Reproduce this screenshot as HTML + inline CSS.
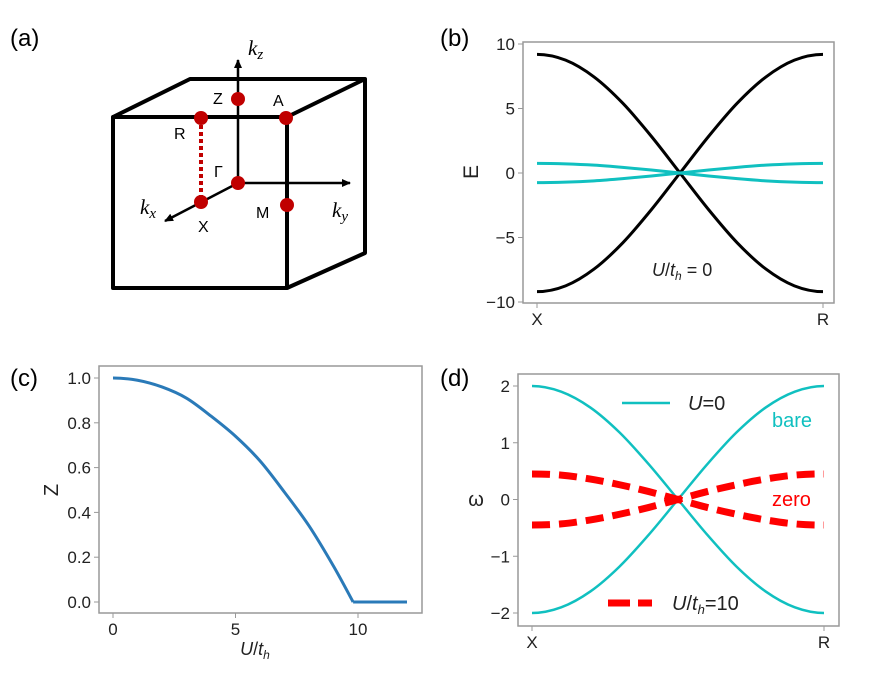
<!DOCTYPE html>
<html><head><meta charset="utf-8"><style>
body{margin:0;background:#fff}
svg{display:block;font-family:"Liberation Sans",sans-serif}
</style></head><body>
<svg id="fig" width="872" height="681" viewBox="0 0 872 681">
<defs><marker id="ar" markerWidth="10" markerHeight="10" refX="8" refY="5" orient="auto" markerUnits="userSpaceOnUse"><path d="M0,1 L9,5 L0,9 Z" fill="#000"/></marker></defs>
<g>
<text x="10" y="46" font-size="24">(a)</text>
<g fill="none" stroke="#000" stroke-width="4" stroke-linejoin="round">
<rect x="113" y="117" width="174" height="171"/>
<path d="M113,117 L190,79 L365,79 L287,117 M365,79 L365,253 L287,288"/>
</g>
<g stroke="#000" stroke-width="2.5">
<line x1="238" y1="183" x2="238" y2="60" marker-end="url(#ar)"/>
<line x1="238" y1="183" x2="350" y2="183" marker-end="url(#ar)"/>
<line x1="238" y1="183" x2="165" y2="221" marker-end="url(#ar)"/>
</g>
<line x1="201" y1="118" x2="201" y2="202" stroke="#c00000" stroke-width="4" stroke-dasharray="4,3"/>
<g fill="#c00000">
<circle cx="238" cy="99" r="7"/><circle cx="286" cy="118" r="7"/><circle cx="201" cy="118" r="7"/>
<circle cx="201" cy="202" r="7"/><circle cx="287" cy="205" r="7"/><circle cx="238" cy="183" r="7"/>
</g>
<g font-size="16">
<text x="213" y="104">Z</text><text x="273" y="106">A</text><text x="174" y="139">R</text>
<text x="214" y="177">Γ</text><text x="198" y="232">X</text><text x="256" y="218">M</text>
</g>
<g font-family="Liberation Serif,serif" font-style="italic" font-size="21">
<text x="248" y="55">k<tspan font-size="15" dy="4">z</tspan></text>
<text x="140" y="214">k<tspan font-size="15" dy="4">x</tspan></text>
<text x="332" y="217">k<tspan font-size="15" dy="4">y</tspan></text>
</g>
</g>
<text x="440" y="46" font-size="24">(b)</text>
<text x="10" y="386" font-size="24">(c)</text>
<text x="440" y="386" font-size="24">(d)</text>
<g id="pb"></g>
<g id="pc"></g>
<g id="pd"></g>
</svg>
<script>
// ---- data ----
const bK = [0,0.1,0.2,0.3,0.4,0.5,0.6,0.7,0.8,0.9,1];
const bBlackUpper = [9.2,8.75,7.44,5.41,2.84,0,-2.84,-5.41,-7.44,-8.75,-9.2];
const bBlackLower = [-9.2,-8.75,-7.44,-5.41,-2.84,0,2.84,5.41,7.44,8.75,9.2];
const bCyanUpper = [0.75,0.71,0.61,0.44,0.23,0,-0.23,-0.44,-0.61,-0.71,-0.75];
const bCyanLower = [-0.75,-0.71,-0.61,-0.44,-0.23,0,0.23,0.44,0.61,0.71,0.75];
const bYTicks = [10,5,0,-5,-10];
const bYTickLabels = ["10","5","0","\u22125","\u221210"];
const cU = [0,1,2,3,4,5,6,7,8,9,9.8];
const cZ = [1.0,0.99,0.96,0.91,0.83,0.74,0.63,0.49,0.34,0.16,0];
const cUTail = [9.8,12];
const cZTail = [0,0];
const cYTicks = [0,0.2,0.4,0.6,0.8,1.0];
const cYTickLabels = ["0.0","0.2","0.4","0.6","0.8","1.0"];
const cXTicks = [0,5,10];
const dK = [0,0.1,0.2,0.3,0.4,0.5,0.6,0.7,0.8,0.9,1];
const dBareUpper = [2,1.9,1.62,1.18,0.62,0,-0.62,-1.18,-1.62,-1.9,-2];
const dBareLower = [-2,-1.9,-1.62,-1.18,-0.62,0,0.62,1.18,1.62,1.9,2];
const dZeroUpper = [0.45,0.43,0.36,0.26,0.14,0,-0.14,-0.26,-0.36,-0.43,-0.45];
const dZeroLower = [-0.45,-0.43,-0.36,-0.26,-0.14,0,0.14,0.26,0.36,0.43,0.45];
const dYTicks = [2,1,0,-1,-2];
const dYTickLabels = ["2","1","0","\u22121","\u22122"];
const NS="http://www.w3.org/2000/svg";
function mk(p,t,a){const e=document.createElementNS(NS,t);for(const k in a)e.setAttribute(k,a[k]);p.appendChild(e);return e;}
function lin(d0,d1,r0,r1){return v=>r0+(v-d0)/(d1-d0)*(r1-r0);}
function smooth(xs,ys,sx,sy,flatStart,flatEnd){const P=xs.map((x,i)=>[sx(x),sy(ys[i])]);const n=P.length;let d="M"+P[0][0]+","+P[0][1];
for(let i=0;i<n-1;i++){
let p0=i>0?P[i-1]:(flatStart?[2*P[0][0]-P[1][0],P[1][1]]:P[0]);
const p1=P[i],p2=P[i+1];
let p3=i+2<n?P[i+2]:(flatEnd?[2*P[n-1][0]-P[n-2][0],P[n-2][1]]:P[n-1]);
d+=" C"+(p1[0]+(p2[0]-p0[0])/6)+","+(p1[1]+(p2[1]-p0[1])/6)+" "+(p2[0]-(p3[0]-p1[0])/6)+","+(p2[1]-(p3[1]-p1[1])/6)+" "+p2[0]+","+p2[1];}return d;}
function frame(g,x0,y0,x1,y1){const r=mk(g,"rect",{x:x0,y:y0,width:x1-x0,height:y1-y0,fill:"none",stroke:"#999","stroke-width":1.5});

}
function yticks(g,x0,vals,labs,sy){vals.forEach((v,i)=>{const y=sy(v);const l=mk(g,"line",{x1:x0-5,x2:x0,y1:y,y2:y,stroke:"#999"});


const t=mk(g,"text",{x:x0-8,y:y+6,"text-anchor":"end","font-size":17,fill:"#222"});t.textContent=labs[i];

});}
function xlab(g,x,yb,s){const l=mk(g,"line",{x1:x,x2:x,y1:yb,y2:yb+5,stroke:"#999"});


const t=mk(g,"text",{x:x,y:yb+22,"text-anchor":"middle","font-size":17,fill:"#222"});t.textContent=s;

}
function curve(g,xs,ys,sx,sy,st,name,fs,fe){const p=mk(g,"path",Object.assign({d:smooth(xs,ys,sx,sy,fs,fe),fill:"none"},st));

}
// panel b
(function(){const g=document.getElementById("pb");const sx=lin(0,1,537,823),sy=lin(-10,10,302,44);
frame(g,523,42,834,303);yticks(g,523,bYTicks,bYTickLabels,sy);xlab(g,537,303,"X");xlab(g,823,303,"R");
const yl=mk(g,"text",{x:0,y:0,"font-size":21,"text-anchor":"middle",transform:"translate(478,172) rotate(-90)",fill:"#222"});yl.textContent="E";


curve(g,bK,bBlackUpper,sx,sy,{stroke:"#000","stroke-width":3},"black-band-upper",true,true);
curve(g,bK,bBlackLower,sx,sy,{stroke:"#000","stroke-width":3},"black-band-lower",true,true);
curve(g,bK,bCyanUpper,sx,sy,{stroke:"#10c0c0","stroke-width":3},"cyan-band-upper",true,true);
curve(g,bK,bCyanLower,sx,sy,{stroke:"#10c0c0","stroke-width":3},"cyan-band-lower",true,true);
const a=mk(g,"text",{x:652,y:276,"font-size":18,fill:"#222"});a.innerHTML='<tspan font-style="italic">U</tspan>/<tspan font-style="italic">t</tspan><tspan font-size="12" font-style="italic" dy="4">h</tspan><tspan dy="-4"> = 0</tspan>';

})();
// panel c
(function(){const g=document.getElementById("pc");const sx=lin(0,10,113,358),sy=lin(0,1,602,378);
frame(g,99,366,422,613);yticks(g,99,cYTicks,cYTickLabels,sy);cXTicks.forEach(v=>xlab(g,sx(v),613,String(v)));
const yl=mk(g,"text",{x:0,y:0,"font-size":20,"text-anchor":"middle",transform:"translate(58,490) rotate(-90)",fill:"#222"});yl.textContent="Z";


const xl=mk(g,"text",{x:255,y:655,"font-size":18,"text-anchor":"middle",fill:"#222"});xl.innerHTML='<tspan font-style="italic">U</tspan>/<tspan font-style="italic">t</tspan><tspan font-size="12" font-style="italic" dy="4">h</tspan>';


curve(g,cU,cZ,sx,sy,{stroke:"#2a7ab8","stroke-width":3},"z-curve",true,false);
const P=cUTail.map((u,i)=>sx(u)+","+sy(cZTail[i])).join(" ");
const pl=mk(g,"polyline",{points:P,fill:"none",stroke:"#2a7ab8","stroke-width":3,"stroke-linejoin":"round"});

})();
// panel d
(function(){const g=document.getElementById("pd");const sx=lin(0,1,532,824),sy=lin(-2,2,613,386);
frame(g,518,374,839,626);yticks(g,518,dYTicks,dYTickLabels,sy);xlab(g,532,626,"X");xlab(g,824,626,"R");
const yl=mk(g,"text",{x:476,y:506,"font-size":20,"text-anchor":"middle",fill:"#222"});yl.textContent="ω";


curve(g,dK,dBareUpper,sx,sy,{stroke:"#10c0c0","stroke-width":2.5},"bare-band-upper",true,true);
curve(g,dK,dBareLower,sx,sy,{stroke:"#10c0c0","stroke-width":2.5},"bare-band-lower",true,true);
curve(g,dK,dZeroUpper,sx,sy,{stroke:"#ff0000","stroke-width":7,"stroke-dasharray":"18,9"},"zero-band-upper",true,true);
curve(g,dK,dZeroLower,sx,sy,{stroke:"#ff0000","stroke-width":7,"stroke-dasharray":"18,9"},"zero-band-lower",true,true);
const l1=mk(g,"line",{x1:622,x2:670,y1:403,y2:403,stroke:"#10c0c0","stroke-width":2.5});


const t1=mk(g,"text",{x:688,y:410,"font-size":20,fill:"#222"});t1.innerHTML='<tspan font-style="italic">U</tspan>=0';


const l2=mk(g,"line",{x1:608,x2:652,y1:603,y2:603,stroke:"#ff0000","stroke-width":7,"stroke-dasharray":"22,8"});


const t2=mk(g,"text",{x:672,y:610,"font-size":20,fill:"#222"});t2.innerHTML='<tspan font-style="italic">U</tspan>/<tspan font-style="italic">t</tspan><tspan font-size="13" font-style="italic" dy="4">h</tspan><tspan dy="-4">=10</tspan>';


const b=mk(g,"text",{x:772,y:427,"font-size":20,fill:"#10c0c0"});b.textContent="bare";


const z=mk(g,"text",{x:772,y:506,"font-size":20,fill:"#ff0000"});z.textContent="zero";

})();
</script>
</body></html>
